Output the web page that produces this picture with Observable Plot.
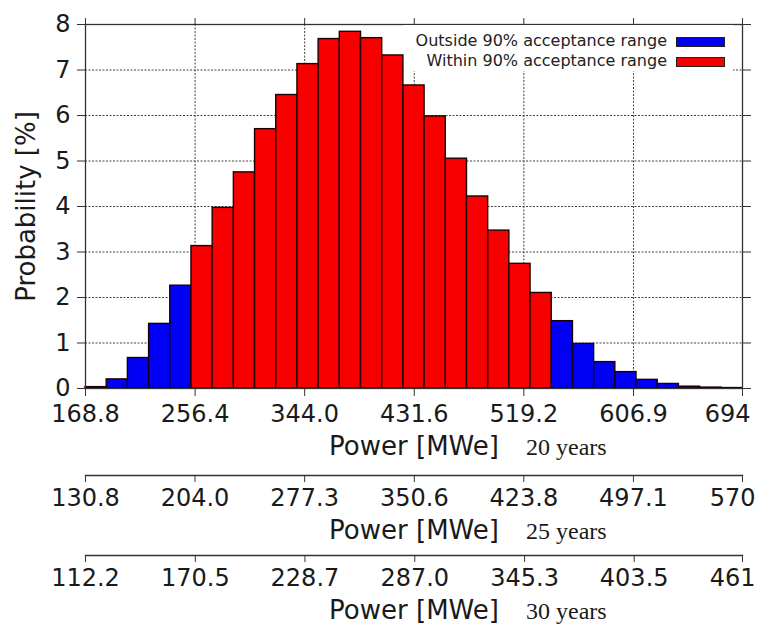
<!DOCTYPE html>
<html>
<head>
<meta charset="utf-8">
<script src="https://cdn.jsdelivr.net/npm/d3@7"></script>
<script src="https://cdn.jsdelivr.net/npm/@observablehq/plot@0.6"></script>
<style>
  body { margin: 0; background: #fff; }
  #wrap { position: relative; width: 761px; height: 624px; font-family: "DejaVu Sans", sans-serif; overflow: hidden; background: #fff; }
  #wrap svg { position: absolute; left: 0; overflow: visible; }
  #legend { position: absolute; left: 404px; top: 25px; width: 329px; height: 46px; background: #fff; }
  .lrow { position: absolute; right: 66px; font-size: 16px; line-height: 16px; color: #222; white-space: nowrap; }
  .lsw { position: absolute; left: 272px; width: 49px; height: 10px; box-sizing: border-box; border: 1px solid #222; }
</style>
</head>
<body>
<div id="wrap"></div>
<script>
// ---- data ----
const binStart = 168.8;
const binEnd = 694;
const probability = [0.03, 0.2, 0.67, 1.42, 2.26, 3.13, 3.97, 4.75, 5.7, 6.45, 7.13, 7.68, 7.84, 7.7, 7.32, 6.66,
  5.98, 5.05, 4.22, 3.47, 2.74, 2.1, 1.48, 0.98, 0.58, 0.36, 0.19, 0.1, 0.04, 0.02, 0.01];
const rangeClass = ["out","out","out","out","out",
  "in","in","in","in","in","in","in","in","in","in","in","in","in","in","in","in","in",
  "out","out","out","out","out","out","out","out","out"];
const legendLabels = ["Outside 90% acceptance range", "Within 90% acceptance range"];
const legendKeys = ["out", "in"];
const barColors = ["#0000f4", "#f80000"];
const ticks20 = ["168.8","256.4","344.0","431.6","519.2","606.9","694"];
const ticks25 = ["130.8","204.0","277.3","350.6","423.8","497.1","570"];
const ticks30 = ["112.2","170.5","228.7","287.0","345.3","403.5","461"];
const yTicks = [0, 1, 2, 3, 4, 5, 6, 7, 8];
const yGrid = [1, 2, 3, 4, 5, 6, 7];
const axisTitle = "Power [MWe]";
const yTitle = "Probability [%]";
const yearLabels = ["20 years", "25 years", "30 years"];

const nBins = probability.length;
const binW = (binEnd - binStart) / nBins;
const bins = probability.map((p, i) => ({
  x0: binStart + i * binW,
  x1: binStart + (i + 1) * binW,
  p,
  cls: rangeClass[i]
}));

const W = 761, ML = 85, MR = 19;
const wrap = document.getElementById("wrap");
const baseStyle = { fontFamily: "DejaVu Sans", fontSize: "24px", color: "#1a1a1a", background: "transparent", overflow: "visible" };

function fmt(values, labels) {
  return d => {
    const i = values.indexOf(d);
    return i === values.length - 1 ? "" : labels[i];
  };
}

// ---- main chart ----
const v20 = ticks20.map(Number);
const main = Plot.plot({
  width: W, height: 460,
  marginLeft: ML, marginRight: MR, marginTop: 24, marginBottom: 72,
  style: baseStyle,
  x: { domain: [binStart, binEnd], label: null },
  y: { domain: [0, 8], label: null },
  color: { domain: legendKeys, range: barColors },
  marks: [
    Plot.gridY(yGrid, { stroke: "#222", strokeOpacity: 0.85, strokeDasharray: "2,1.5", strokeWidth: 1 }),
    Plot.gridX(v20.slice(1, -1), { stroke: "#222", strokeOpacity: 0.85, strokeDasharray: "2,1.5", strokeWidth: 1 }),
    Plot.rectY(bins, { x1: "x0", x2: "x1", y: "p", fill: "cls", stroke: "#1a0000", strokeWidth: 1.4 }),
    Plot.frame({ stroke: "#333", strokeWidth: 1.3 }),
    Plot.axisX(v20, { anchor: "bottom", tickSize: 8, tickPadding: 8, tickFormat: fmt(v20, ticks20), stroke: "#333" }),
    Plot.text([v20[v20.length - 1]], { x: d => d, frameAnchor: "bottom", textAnchor: "end", lineAnchor: "top", dx: 8, dy: 16, text: () => ticks20[ticks20.length - 1], fontSize: 24 }),
    Plot.axisX(v20, { anchor: "top", tickSize: 7, tickFormat: () => "", stroke: "#333" }),
    Plot.axisY(yTicks, { anchor: "left", tickSize: 8, tickPadding: 7, stroke: "#333" }),
    Plot.axisY(yTicks, { anchor: "right", tickSize: 8, tickFormat: () => "", stroke: "#333" }),
    Plot.text([axisTitle], { text: d => d, frameAnchor: "bottom", textAnchor: "middle", dy: 58, lineAnchor: "middle", fontSize: 26 }),
    Plot.text([yearLabels[0]], { text: d => d, frameAnchor: "bottom", textAnchor: "start", dx: 112, dy: 59, lineAnchor: "middle", fontSize: 24, fontFamily: "Liberation Serif" }),
    Plot.text([yTitle], { text: d => d, frameAnchor: "left", textAnchor: "middle", lineAnchor: "middle", rotate: -90, dx: -59, fontSize: 26 })
  ]
});
main.style.top = "0px";
wrap.appendChild(main);

// ---- legend ----
const legend = document.createElement("div");
legend.id = "legend";
legendLabels.forEach((lab, i) => {
  const t = document.createElement("div");
  t.className = "lrow";
  t.textContent = lab;
  t.style.top = (8 + i * 20) + "px";
  legend.appendChild(t);
  const s = document.createElement("div");
  s.className = "lsw";
  s.style.top = (12 + i * 20) + "px";
  s.style.background = barColors[i];
  legend.appendChild(s);
});
wrap.appendChild(legend);

// ---- secondary axes ----
function secondary(labels, yearLabel, top) {
  const vals = labels.map(Number);
  const p = Plot.plot({
    width: W, height: 75,
    marginLeft: ML, marginRight: MR, marginTop: 2, marginBottom: 73,
    style: baseStyle,
    x: { domain: [vals[0], vals[vals.length - 1]], label: null },
    marks: [
      Plot.frame({ anchor: "bottom", stroke: "#333", strokeWidth: 1.3 }),
      Plot.axisX(vals, { anchor: "bottom", tickSize: 7, tickPadding: 6, tickFormat: fmt(vals, labels), stroke: "#333" }),
      Plot.text([vals[vals.length - 1]], { x: d => d, frameAnchor: "bottom", textAnchor: "end", lineAnchor: "top", dx: 13, dy: 13, text: () => labels[labels.length - 1], fontSize: 24 }),
      Plot.text([axisTitle], { text: d => d, frameAnchor: "bottom", textAnchor: "middle", dy: 55, lineAnchor: "middle", fontSize: 26 }),
      Plot.text([yearLabel], { text: d => d, frameAnchor: "bottom", textAnchor: "start", dx: 112, dy: 56, lineAnchor: "middle", fontSize: 24, fontFamily: "Liberation Serif" })
    ]
  });
  p.style.top = top + "px";
  wrap.appendChild(p);
}
secondary(ticks25, yearLabels[1], 473);
secondary(ticks30, yearLabels[2], 553);
</script>
</body>
</html>
